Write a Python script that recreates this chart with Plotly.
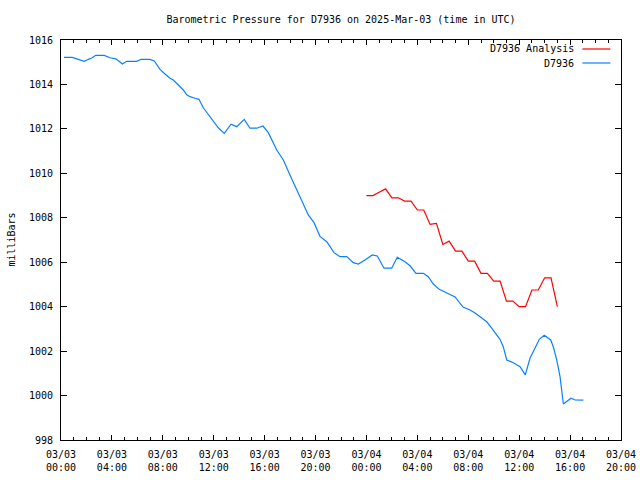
import pandas as pd
import plotly.graph_objects as go

# Observed station pressure (hours after 2025-03-03 00:00 UTC, mbar)
obs_hours = [0.24, 0.89, 1.36, 1.83, 2.15, 2.41, 2.73, 3.40, 3.85, 4.30, 4.56, 4.82, 5.16, 5.95,
             6.29, 6.99, 7.33, 7.78, 8.17, 8.56, 8.82, 9.22, 9.61, 9.88, 10.14, 10.53, 10.84,
             11.18, 11.57, 11.97, 12.36, 12.83, 13.36, 13.81, 14.40, 14.85, 15.38, 15.87, 16.29,
             16.95, 17.47, 17.99, 18.46, 18.91, 19.43, 19.88, 20.35, 20.88, 21.45, 21.92, 22.45,
             22.97, 23.36, 23.89, 24.46, 24.85, 25.38, 25.98, 26.42, 27.03, 27.42, 27.89, 28.47,
             28.86, 29.25, 29.72, 30.33, 30.96, 31.59, 32.14, 32.53, 33.16, 33.45, 33.84, 34.23,
             34.49, 34.75, 35.02, 35.54, 36.07, 36.48, 36.85, 37.24, 37.58, 37.97, 38.48, 38.68,
             38.95, 39.21, 39.47, 40.07, 40.39, 41.04]
obs_values = [1015.22, 1015.22, 1015.13, 1015.04, 1015.13, 1015.19, 1015.31, 1015.31, 1015.20,
              1015.15, 1015.04, 1014.92, 1015.04, 1015.04, 1015.13, 1015.13, 1015.06, 1014.68,
              1014.47, 1014.28, 1014.20, 1013.98, 1013.75, 1013.53, 1013.45, 1013.38, 1013.33,
              1012.95, 1012.67, 1012.37, 1012.05, 1011.80, 1012.21, 1012.10, 1012.43, 1012.03,
              1012.03, 1012.13, 1011.83, 1011.05, 1010.60, 1009.93, 1009.33, 1008.72, 1008.13,
              1007.78, 1007.16, 1006.92, 1006.43, 1006.25, 1006.25, 1005.98, 1005.92, 1006.10,
              1006.33, 1006.28, 1005.73, 1005.73, 1006.22, 1006.02, 1005.84, 1005.50, 1005.50,
              1005.35, 1005.02, 1004.78, 1004.62, 1004.44, 1003.98, 1003.85, 1003.71, 1003.44,
              1003.32, 1003.03, 1002.73, 1002.53, 1002.20, 1001.60, 1001.48, 1001.30, 1000.93,
              1001.68, 1002.13, 1002.53, 1002.71, 1002.50, 1002.20, 1001.60, 1000.85, 999.62,
              999.88, 999.80, 999.79]

# Analysis pressure (every 30 min from 2025-03-04 00:00)
ana_hours = [24.0 + 0.5 * i for i in range(31)]
ana_values = [1009.0, 1009.0, 1009.15, 1009.3, 1008.9, 1008.9, 1008.75, 1008.75, 1008.35,
              1008.35, 1007.7, 1007.75, 1006.8, 1006.95, 1006.5, 1006.5, 1006.05, 1006.05,
              1005.5, 1005.5, 1005.15, 1005.15, 1004.25, 1004.25, 1004.0, 1004.0, 1004.75,
              1004.75, 1005.3, 1005.3, 1004.0]

tick_hours = [0, 4, 8, 12, 16, 20, 24, 28, 32, 36, 40, 44]
tick_labels = ["03/03<br>00:00", "03/03<br>04:00", "03/03<br>08:00", "03/03<br>12:00",
               "03/03<br>16:00", "03/03<br>20:00", "03/04<br>00:00", "03/04<br>04:00",
               "03/04<br>08:00", "03/04<br>12:00", "03/04<br>16:00", "03/04<br>20:00"]
y_ticks = [998, 1000, 1002, 1004, 1006, 1008, 1010, 1012, 1014, 1016]

base = pd.Timestamp("2025-03-03 00:00")
to_time = lambda hs: [base + pd.Timedelta(hours=h) for h in hs]

FONT = "DejaVu Sans Mono"
RED = "#ff0000"
BLUE = "#0a80ff"

fig = go.Figure()
fig.add_trace(go.Scatter(x=to_time(ana_hours), y=ana_values, mode="lines",
                         name="D7936 Analysis", line=dict(color=RED, width=1.2)))
fig.add_trace(go.Scatter(x=to_time(obs_hours), y=obs_values, mode="lines",
                         name="D7936", line=dict(color=BLUE, width=1.2)))

axis_common = dict(showline=True, linecolor="black", linewidth=1, mirror="allticks",
                   ticks="inside", tickcolor="black", showgrid=False, zeroline=False,
                   automargin=False,
                   tickfont=dict(family=FONT, size=10, color="black"))

fig.update_layout(
    width=640, height=480,
    margin=dict(l=61, r=19, t=40, b=40, autoexpand=False),
    paper_bgcolor="white", plot_bgcolor="white",
    showlegend=False,
    font=dict(family=FONT, size=10, color="black"),
    title=dict(text="Barometric Pressure for D7936 on 2025-Mar-03 (time in UTC)",
               x=0.5, xref="paper", xanchor="center", y=1 - 19 / 480, yanchor="middle",
               font=dict(family=FONT, size=10, color="black"), automargin=False),
    xaxis=dict(range=[base, base + pd.Timedelta(hours=44)],
               tickvals=to_time(tick_hours), ticktext=tick_labels, ticklen=5,
               ticklabelstandoff=5,
               minor=dict(dtick=3600000, ticks="inside", ticklen=3, tickcolor="black"),
               **axis_common),
    yaxis=dict(range=[998, 1016], tickvals=y_ticks, ticklen=6, ticklabelstandoff=5,
               **axis_common),
)

# y-axis label
fig.add_annotation(text="milliBars", xref="paper", yref="paper", x=-0.09, y=0.5,
                   textangle=-90, showarrow=False, xanchor="center", yanchor="middle",
                   font=dict(family=FONT, size=10, color="black"))

# legend (text right-aligned, sample line to the right, as in the original)
legend_items = [("D7936 Analysis", RED, 0.9775), ("D7936", BLUE, 0.9425)]
for label, color, ly in legend_items:
    fig.add_annotation(text=label, xref="paper", yref="paper", x=0.92, y=ly,
                       xanchor="right", yanchor="middle", showarrow=False,
                       font=dict(family=FONT, size=10, color="black"))
    fig.add_shape(type="line", xref="paper", yref="paper", x0=0.931, x1=0.981,
                  y0=ly, y1=ly, line=dict(color=color, width=1.2))

fig.write_html("out.html", config={"displayModeBar": False},
               post_script="document.body.style.margin='0';document.body.style.overflow='hidden';")
